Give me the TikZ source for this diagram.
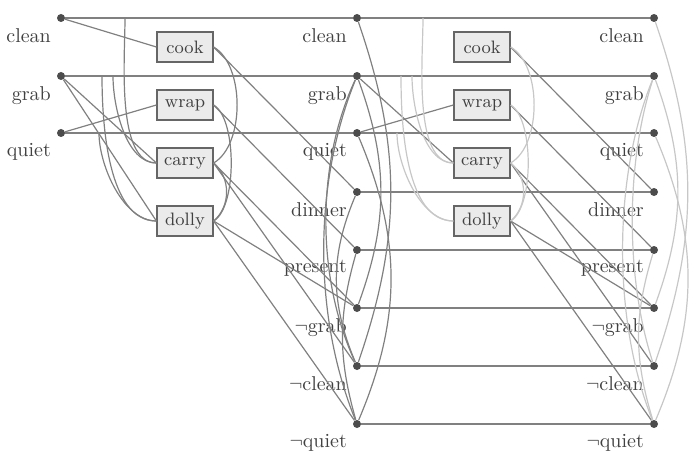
\documentclass[tikz,border=0pt]{standalone}
\usetikzlibrary{positioning}

\tikzset{
	lit/.style={circle, fill=black!70, inner sep=0pt, minimum size=4pt},
	lbl/.style={text=black!75},
	act/.style={draw=black!60, fill=black!8, line width=0.6pt, font=\small, text=black!75, minimum width=28pt, minimum height=15pt, inner sep=1pt},
	ln/.style={black!50, line width=0.6pt},
	lmx/.style={black!22, line width=0.6pt},
}

\begin{document}
\begin{tikzpicture}[x=0.5pt, y=-0.5pt]
	\useasboundingbox (0,0) rectangle (696,465);
	
	\node[lit, label={[lbl]below left:clean}] (c0) at (61,18) {};
	\node[lit, label={[lbl]below left:grab}] (g0) at (61,76) {};
	\node[lit, label={[lbl]below left:quiet}] (q0) at (61,133) {};
	
	\foreach \l/\x in {1/357, 2/654} {
		\node[lit, label={[lbl]below left:clean}] (c\l) at (\x,18) {};
		\node[lit, label={[lbl]below left:grab}] (g\l) at (\x,76) {};
		\node[lit, label={[lbl]below left:quiet}] (q\l) at (\x,133) {};
		\node[lit, label={[lbl]below left:dinner}] (d\l) at (\x,192) {};
		\node[lit, label={[lbl]below left:present}] (p\l) at (\x,250) {};
		\node[lit, label={[lbl]below left:$\neg$grab}] (ng\l) at (\x,308) {};
		\node[lit, label={[lbl]below left:$\neg$clean}] (nc\l) at (\x,366) {};
		\node[lit, label={[lbl]below left:$\neg$quiet}] (nq\l) at (\x,424) {};
	}
	
	\foreach \l/\x in {1/185, 2/482} {
		\node[act] (cook\l) at (\x,47) {cook};
		\node[act] (wrap\l) at (\x,105) {wrap};
		\node[act] (carry\l) at (\x,163) {carry};
		\node[act] (dolly\l) at (\x,221) {dolly};
	}
	
	% no-ops
	\foreach \n in {c,g,q} \draw[ln] (\n0) -- (\n1);
	\foreach \n in {c,g,q,d,p,ng,nc,nq} \draw[ln] (\n1) -- (\n2);
	
	% first step
	\draw[ln] (c0) -- (cook1.west);
	\draw[ln] (q0) -- (wrap1.west);
	\draw[ln] (g0) -- (carry1.west);
	\draw[ln] (g0) -- (dolly1.west);
	\draw[ln] (cook1.east) -- (d1);
	\draw[ln] (wrap1.east) -- (p1);
	\draw[ln] (carry1.east) -- (ng1);
	\draw[ln] (carry1.east) -- (nc1);
	\draw[ln] (dolly1.east) -- (ng1);
	\draw[ln] (dolly1.east) -- (nq1);
	
	\coordinate (mc1) at (125,18);
	\coordinate (mg1) at (113,76);
	\coordinate (mh1) at (102,76);
	\coordinate (mq1) at (99,133);
	\draw[ln] (mc1) to[out=-90, in=180, looseness=0.7] (carry1.west);
	\draw[ln] (mg1) to[out=-90, in=180, looseness=0.8] (carry1.west);
	\draw[ln] (mh1) to[out=-90, in=180, looseness=0.8] (dolly1.west);
	\draw[ln] (mq1) to[out=-90, in=180, looseness=0.8] (dolly1.west);
	\draw[ln] (cook1.east) to[out=-30, in=30, looseness=0.8] (carry1.east);
	\draw[ln] (wrap1.east) to[out=-30, in=30, looseness=0.6] (dolly1.east);
	\draw[ln] (carry1.east) to[out=-40, in=40] (dolly1.east);
	
	\draw[ln] (g1) to[out=-70, in=70] (ng1);
	\draw[ln] (c1) to[out=-71, in=71] (nc1);
	\draw[ln] (q1) to[out=-67, in=67] (nq1);
	\draw[ln] (g1) to[out=-112, in=112, looseness=0.85] (nq1);
	\draw[ln] (g1) to[out=-115, in=115, looseness=0.84] (nc1);
	\draw[ln] (d1) to[out=-113, in=113] (nc1);
	\draw[ln] (p1) to[out=-106, in=106] (nq1);
	
	% second step
	\draw[ln] (q1) -- (wrap2.west);
	\draw[ln] (g1) -- (carry2.west);
	\draw[ln] (cook2.east) -- (d2);
	\draw[ln] (wrap2.east) -- (p2);
	\draw[ln] (carry2.east) -- (ng2);
	\draw[ln] (carry2.east) -- (nc2);
	\draw[ln] (dolly2.east) -- (ng2);
	\draw[ln] (dolly2.east) -- (nq2);
	
	\coordinate (mc2) at (423,18);
	\coordinate (mg2) at (412,76);
	\coordinate (mh2) at (401,76);
	\coordinate (mq2) at (397,133);
	\draw[lmx] (mc2) to[out=-90, in=180, looseness=0.7] (carry2.west);
	\draw[lmx] (mg2) to[out=-90, in=180, looseness=0.8] (carry2.west);
	\draw[lmx] (mh2) to[out=-90, in=180, looseness=0.8] (dolly2.west);
	\draw[lmx] (mq2) to[out=-90, in=180, looseness=0.8] (dolly2.west);
	\draw[lmx] (cook2.east) to[out=-30, in=30, looseness=0.8] (carry2.east);
	\draw[lmx] (wrap2.east) to[out=-30, in=30, looseness=0.6] (dolly2.east);
	\draw[lmx] (carry2.east) to[out=-40, in=40] (dolly2.east);
	
	\draw[lmx] (g2) to[out=-70, in=70] (ng2);
	\draw[lmx] (c2) to[out=-71, in=71] (nc2);
	\draw[lmx] (q2) to[out=-67, in=67] (nq2);
	\draw[lmx] (g2) to[out=-112, in=112, looseness=0.8] (nq2);
	\draw[lmx] (g2) to[out=-108, in=108, looseness=0.8] (nc2);
	\draw[lmx] (p2) to[out=-107, in=107] (nq2);
	
\end{tikzpicture}
\end{document}
